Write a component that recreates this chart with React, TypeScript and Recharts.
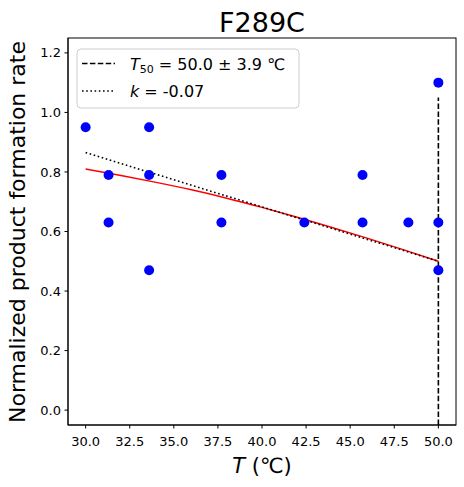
import { ComposedChart, Scatter, Line, XAxis, YAxis } from "recharts";

// measured points (temperature gradient, normalized rate)
const measured = [
  { x: 30.0, y: 0.95 },
  { x: 31.3, y: 0.79 },
  { x: 31.3, y: 0.63 },
  { x: 33.6, y: 0.95 },
  { x: 33.6, y: 0.79 },
  { x: 33.6, y: 0.47 },
  { x: 37.7, y: 0.79 },
  { x: 37.7, y: 0.63 },
  { x: 42.4, y: 0.63 },
  { x: 45.7, y: 0.79 },
  { x: 45.7, y: 0.63 },
  { x: 48.3, y: 0.63 },
  { x: 50.0, y: 1.1 },
  { x: 50.0, y: 0.63 },
  { x: 50.0, y: 0.47 },
];

// fitted curve
const fitCurve = [
  { x: 30, y: 0.81 },
  { x: 32, y: 0.788 },
  { x: 34, y: 0.765 },
  { x: 36, y: 0.74 },
  { x: 38, y: 0.712 },
  { x: 40, y: 0.681 },
  { x: 42, y: 0.648 },
  { x: 44, y: 0.613 },
  { x: 46, y: 0.577 },
  { x: 48, y: 0.539 },
  { x: 50, y: 0.5 },
];

// slope line at T50
const slopeLine = [
  { x: 30, y: 0.865 },
  { x: 50, y: 0.5 },
];

// T50 marker
const t50Line = [
  { x: 50, y: -0.05 },
  { x: 50, y: 1.05 },
];

const xTicks = [30, 32.5, 35, 37.5, 40, 42.5, 45, 47.5, 50];
const yTicks = [0, 0.2, 0.4, 0.6, 0.8, 1.0, 1.2];

const font = "DejaVu Sans";
const tickStyle = { fontSize: 13, fill: "#000", fontFamily: font };

export default function App() {
  return (
    <div style={{ position: "absolute", left: 0, top: 0, width: 464, height: 487, background: "#fff" }}>
      <ComposedChart width={464} height={487} margin={{ top: 38, right: 8, bottom: 0, left: 0 }}>
        <XAxis
          dataKey="x"
          type="number"
          domain={[29, 51]}
          ticks={xTicks}
          tickFormatter={(v) => v.toFixed(1)}
          height={62}
          tickSize={3.5}
          tickMargin={8}
          tick={tickStyle}
          stroke="#000"
          allowDataOverflow
        />
        <YAxis
          dataKey="y"
          type="number"
          domain={[-0.05, 1.25]}
          ticks={yTicks}
          tickFormatter={(v) => v.toFixed(1)}
          width={68}
          tickSize={3.5}
          tickMargin={3.5}
          tick={tickStyle}
          stroke="#000"
          allowDataOverflow
        />

        <Scatter
          data={measured}
          dataKey="y"
          isAnimationActive={false}
          shape={(p: any) => <circle cx={p.cx} cy={p.cy} r={5} fill="#0000ff" />}
        />
        <Line data={fitCurve} dataKey="y" type="monotone" stroke="#ff0000" strokeWidth={1.5} dot={false} isAnimationActive={false} />
        <Line data={slopeLine} dataKey="y" type="linear" stroke="#000" strokeWidth={1.6} strokeDasharray="1.6 2.6" dot={false} isAnimationActive={false} />
        <Line data={t50Line} dataKey="y" type="linear" stroke="#000" strokeWidth={1.6} strokeDasharray="5.5 2.4" dot={false} isAnimationActive={false} />
      </ComposedChart>

      <svg width={464} height={487} style={{ position: "absolute", left: 0, top: 0, pointerEvents: "none" }} fontFamily={font}>
        {/* axes frame */}
        <rect x={68} y={38} width={388} height={387} fill="none" stroke="#000" strokeWidth={1} />

        <text x={262} y={32} textAnchor="middle" fontSize={27}>F289C</text>
        <text x={262} y={473} textAnchor="middle" fontSize={21}>
          <tspan fontStyle="italic">T</tspan> (℃)
        </text>
        <text x={25} y={232} textAnchor="middle" fontSize={22} transform="rotate(-90, 25, 232)">
          Normalized product formation rate
        </text>

        <rect x={77} y={49} width={222} height={59} rx={4} fill="rgba(255,255,255,0.8)" stroke="#cccccc" />
        <line x1={82} y1={63.5} x2={115} y2={63.5} stroke="#000" strokeWidth={1.6} strokeDasharray="5.5 2.4" />
        <text x={130} y={70} fontSize={16}>
          <tspan fontStyle="italic">T</tspan>
          <tspan dy={3} fontSize={11}>50</tspan>
          <tspan dy={-3}> = 50.0 ± 3.9 ℃</tspan>
        </text>
        <line x1={82} y1={91} x2={115} y2={91} stroke="#000" strokeWidth={1.6} strokeDasharray="1.6 2.6" />
        <text x={130} y={97} fontSize={16}>
          <tspan fontStyle="italic">k</tspan> = -0.07
        </text>
      </svg>
    </div>
  );
}
